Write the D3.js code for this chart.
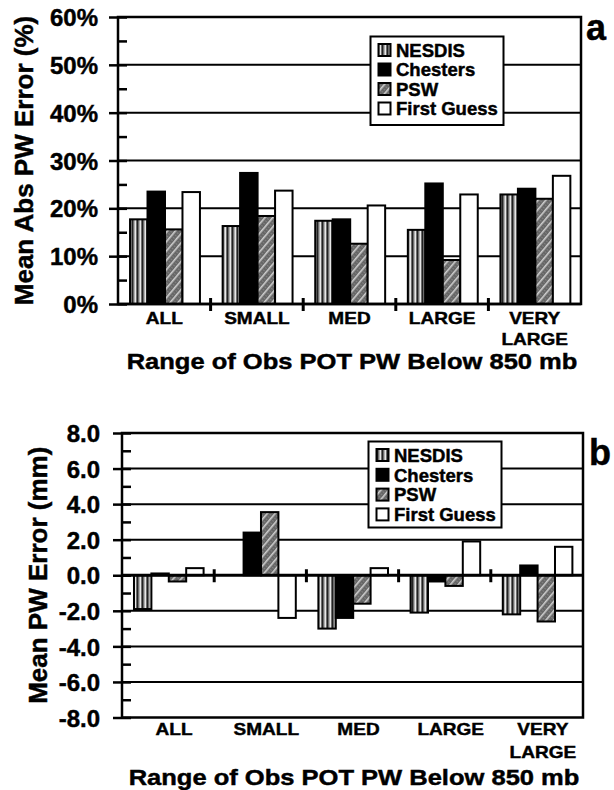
<!DOCTYPE html>
<html><head><meta charset="utf-8">
<script src="https://cdn.jsdelivr.net/npm/d3@7"></script>
<style>body{margin:0;background:#fff}svg{display:block}</style>
</head><body>
<svg id="chart" width="614" height="790"></svg>
<script>
// ---------- data ----------
const categories = ["ALL", "SMALL", "MED", "LARGE", "VERY LARGE"];
const seriesNames = ["NESDIS", "Chesters", "PSW", "First Guess"];

// panel a: Mean Abs PW Error (%)
const absNESDIS     = [17.7, 16.3, 17.4, 15.5, 22.9];
const absChesters   = [23.5, 27.4, 17.7, 25.2, 24.1];
const absPSW        = [15.6, 18.4, 12.6, 9.2, 22.0];
const absFirstGuess = [23.4, 23.7, 20.6, 22.9, 26.8];
const absTicks      = [0, 10, 20, 30, 40, 50, 60];
const absTickLabels = ["0%", "10%", "20%", "30%", "40%", "50%", "60%"];
const absMinor      = [5, 15, 25, 35, 45, 55];

// panel b: Mean PW Error (mm)
const meanNESDIS     = [-1.9, 0.0, -3.0, -2.1, -2.2];
const meanChesters   = [0.1, 2.4, -2.4, -0.35, 0.55];
const meanPSW        = [-0.35, 3.55, -1.6, -0.6, -2.6];
const meanFirstGuess = [0.4, -2.4, 0.4, 1.9, 1.6];
const meanTicks      = [-8, -6, -4, -2, 0, 2, 4, 6, 8];
const meanTickLabels = ["-8.0", "-6.0", "-4.0", "-2.0", "0.0", "2.0", "4.0", "6.0", "8.0"];
const meanMinor      = [-7, -5, -3, -1, 1, 3, 5, 7];

const xTitle = "Range of Obs POT PW Below 850 mb";

// ---------- drawing ----------
const FONT = "'Liberation Sans', Arial, Helvetica, sans-serif";
const svg = d3.select("#chart");
const defs = svg.append("defs");

// NESDIS: vertical stripes
const pN = defs.append("pattern").attr("id", "pN").attr("patternUnits", "userSpaceOnUse")
  .attr("width", 5).attr("height", 5);
pN.append("rect").attr("width", 5).attr("height", 5).attr("fill", "#6c6c6c");
pN.append("rect").attr("x", 0).attr("width", 1).attr("height", 5).attr("fill", "#e8e8e8");
pN.append("rect").attr("x", 2).attr("width", 1).attr("height", 5).attr("fill", "#222");
pN.append("rect").attr("x", 4).attr("width", 1).attr("height", 5).attr("fill", "#b0b0b0");

// PSW: diagonal hatch over dotted gray
const pP = defs.append("pattern").attr("id", "pP").attr("patternUnits", "userSpaceOnUse")
  .attr("width", 6).attr("height", 6).attr("patternTransform", "rotate(40)");
pP.append("rect").attr("width", 6).attr("height", 6).attr("fill", "#666");
pP.append("rect").attr("x", 0).attr("width", 1.6).attr("height", 6).attr("fill", "#cfcfcf");
pP.append("rect").attr("x", 3.5).attr("y", 1).attr("width", 1).attr("height", 1).attr("fill", "#9a9a9a");
pP.append("rect").attr("x", 3.5).attr("y", 4).attr("width", 1).attr("height", 1).attr("fill", "#9a9a9a");

const fills = {"NESDIS": "url(#pN)", "Chesters": "#000", "PSW": "url(#pP)", "First Guess": "#fff"};

function boldText(sel, size) {
  return sel.attr("font-family", FONT).attr("font-weight", "bold").attr("font-size", size)
    .attr("fill", "#000").attr("stroke", "#000").attr("stroke-width", 0.45);
}

function stretchedText(g, txt, x, y, size, sx, anchor) {
  return boldText(g.append("text")
    .attr("transform", `translate(${x},${y}) scale(${sx},1)`)
    .attr("text-anchor", anchor || "middle"), size).text(txt);
}

function drawPanel(o) {
  const g = svg.append("g");
  const x = d3.scaleBand().domain(categories).range([o.left, o.right]);
  const xs = d3.scaleBand().domain(seriesNames)
    .range([x.bandwidth() * 0.13, x.bandwidth() * 0.885]);
  const y = d3.scaleLinear().domain(o.domain).range([o.bottom, o.top]);

  // gridlines
  g.append("g").selectAll("line")
    .data(o.ticks.filter(t => t !== o.domain[0] && t !== o.domain[1] && t !== 0))
    .join("line")
    .attr("x1", o.left).attr("x2", o.right)
    .attr("y1", d => y(d)).attr("y2", d => y(d))
    .attr("stroke", "#000").attr("stroke-width", 2);

  // bars
  const rows = [];
  seriesNames.forEach((s, si) => {
    o.values[si].forEach((v, ci) => rows.push({s, c: categories[ci], v}));
  });
  g.append("g").selectAll("rect").data(rows).join("rect")
    .attr("x", d => x(d.c) + xs(d.s))
    .attr("width", xs.bandwidth())
    .attr("y", d => y(Math.max(0, d.v)))
    .attr("height", d => Math.abs(y(d.v) - y(0)))
    .attr("fill", d => fills[d.s])
    .attr("stroke", "#000").attr("stroke-width", 2);

  // zero line
  g.append("line").attr("x1", o.left).attr("x2", o.right)
    .attr("y1", y(0)).attr("y2", y(0))
    .attr("stroke", "#000").attr("stroke-width", o.domain[0] === 0 ? 2.5 : 3);

  // frame
  g.append("rect").attr("x", o.left).attr("y", o.top)
    .attr("width", o.right - o.left).attr("height", o.bottom - o.top)
    .attr("fill", "none").attr("stroke", "#000").attr("stroke-width", 2.5);

  // y axis: major ticks outward with labels
  const ax = g.append("g").attr("transform", `translate(${o.left},0)`)
    .call(d3.axisLeft(y).tickValues(o.ticks).tickSize(9).tickPadding(o.pad)
      .tickFormat((d, i) => o.labels[i]));
  ax.select(".domain").remove();
  ax.selectAll("line").attr("stroke-width", 2.5);
  boldText(ax.selectAll("text"), 24).attr("dy", "0.36em");
  // inside ticks (major + minor)
  const ai = g.append("g").attr("transform", `translate(${o.left},0)`)
    .call(d3.axisRight(y).tickValues(o.ticks.concat(o.minor)).tickSize(9).tickFormat(""));
  ai.select(".domain").remove();
  ai.selectAll("line").attr("stroke-width", 2.5);

  // category separators
  const seps = categories.slice(1).map(c => x(c));
  g.append("g").selectAll("line").data(seps).join("line")
    .attr("x1", d => d).attr("x2", d => d)
    .attr("y1", y(0) - 6).attr("y2", y(0) + 7)
    .attr("stroke", "#000").attr("stroke-width", 3);

  // category labels
  categories.forEach(c => {
    const cx = x(c) + x.bandwidth() / 2 + o.labelDx;
    const parts = c.split(" ");
    parts.forEach((p, k) => {
      stretchedText(g, p, cx, o.labelY + k * o.labelGap, 17, 1.12);
    });
  });

  // x title
  stretchedText(g, xTitle, o.titleX, o.titleY, 22, 1.16);

  // y title
  boldText(g.append("text")
    .attr("transform", `translate(${o.yTitleX},${(o.top + o.bottom) / 2}) rotate(-90)`)
    .attr("text-anchor", "middle"), 26).text(o.yTitle);

  // panel letter
  boldText(g.append("text").attr("x", o.letterX).attr("y", o.letterY), 36).text(o.letter);

  // legend
  const lg = g.append("g");
  lg.append("rect").attr("x", o.legX).attr("y", o.legY).attr("width", 133).attr("height", o.legH)
    .attr("fill", "#fff").attr("stroke", "#000").attr("stroke-width", 2);
  seriesNames.forEach((s, i) => {
    const cy = o.legY + 13.5 + i * o.legStep;
    lg.append("rect").attr("x", o.legX + 8).attr("y", cy - 6).attr("width", 12).attr("height", 12)
      .attr("fill", fills[s]).attr("stroke", "#000").attr("stroke-width", 2);
    boldText(lg.append("text").attr("x", o.legX + 25.5).attr("y", cy + 6.8), 18.5).text(s);
  });
}

drawPanel({
  left: 118, right: 581, top: 17, bottom: 304,
  domain: [0, 60], ticks: absTicks, labels: absTickLabels, minor: absMinor, pad: 11,
  values: [absNESDIS, absChesters, absPSW, absFirstGuess],
  labelY: 324, labelGap: 21, labelDx: 0, titleX: 352, titleY: 369,
  yTitle: "Mean Abs PW Error (%)", yTitleX: 33,
  letter: "a", letterX: 586, letterY: 40,
  legX: 370.5, legY: 36.5, legH: 88.5, legStep: 19.5
});

drawPanel({
  left: 122, right: 583, top: 433, bottom: 717.5,
  domain: [-8, 8], ticks: meanTicks, labels: meanTickLabels, minor: meanMinor, pad: 13,
  values: [meanNESDIS, meanChesters, meanPSW, meanFirstGuess],
  labelY: 735, labelGap: 23, labelDx: 6, titleX: 354, titleY: 785,
  yTitle: "Mean PW Error (mm)", yTitleX: 47,
  letter: "b", letterX: 589, letterY: 465,
  legX: 368.5, legY: 441.5, legH: 86, legStep: 19.8
});
</script>
</body></html>
